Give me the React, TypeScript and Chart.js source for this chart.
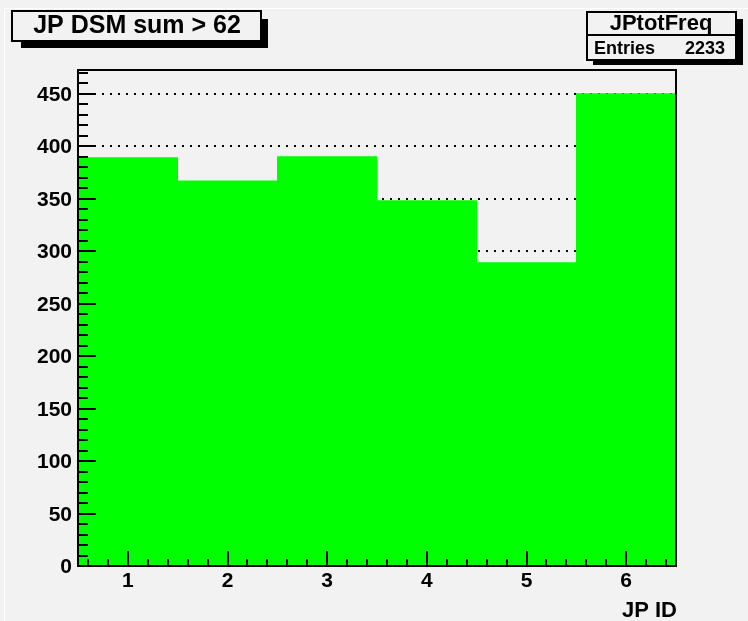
import React, { useEffect, useRef } from "react";
import { Chart, registerables } from "chart.js";

Chart.register(...registerables);

const binCenters = [1, 2, 3, 4, 5, 6];
const binCounts = [389, 367, 390, 348, 289, 450];
const xTickLabels = ["1", "2", "3", "4", "5", "6"];
const yMajorTicks = [0, 50, 100, 150, 200, 250, 300, 350, 400, 450];
const yGridLines = [50, 100, 150, 200, 250, 300, 350, 400, 450];
const titleText = "JP DSM sum > 62";
const histName = "JPtotFreq";
const entriesLabel = "Entries";
const entriesValue = "2233";
const xAxisTitle = "JP ID";

const FONT = "'Liberation Sans', Arial, Helvetica, sans-serif";
const BG = "#f2f2f2";

const rootPlugin = {
  id: "rootStyle",
  beforeDraw(chart: any) {
    const ctx = chart.ctx;
    ctx.save();
    ctx.fillStyle = BG;
    ctx.fillRect(0, 0, chart.width, chart.height);
    ctx.fillStyle = "#ffffff";
    ctx.fillRect(4, 8, chart.width - 4, 1);
    ctx.fillRect(4, 8, 1, chart.height - 8);
    ctx.restore();
  },
  beforeDatasetsDraw(chart: any) {
    const ctx = chart.ctx;
    const { left, right } = chart.chartArea;
    const y = chart.scales.y;
    ctx.save();
    ctx.strokeStyle = "#000";
    ctx.lineWidth = 2;
    ctx.setLineDash([2, 6]);
    for (const v of yGridLines) {
      const py = Math.round(y.getPixelForValue(v));
      ctx.beginPath();
      ctx.moveTo(left, py);
      ctx.lineTo(right, py);
      ctx.stroke();
    }
    ctx.restore();
  },
  afterDatasetsDraw(chart: any) {
    const ctx = chart.ctx;
    const { left, right, top, bottom } = chart.chartArea;
    const x = chart.scales.x;
    const y = chart.scales.y;
    ctx.save();
    ctx.strokeStyle = "#000";
    ctx.fillStyle = "#000";
    ctx.lineWidth = 2;
    ctx.setLineDash([]);
    ctx.strokeRect(left, top, right - left, bottom - top);

    for (let v = 0; v <= y.max + 1e-9; v += 10) {
      const py = Math.round(y.getPixelForValue(v));
      const major = Math.abs(v % 50) < 1e-9;
      const len = major ? 18 : 10;
      ctx.beginPath();
      ctx.moveTo(left, py);
      ctx.lineTo(left + len, py);
      ctx.stroke();
    }
    for (let i = 3; i <= 32; i++) {
      const v = i * 0.2;
      if (v < x.min - 1e-9 || v > x.max + 1e-9) continue;
      const px = Math.round(x.getPixelForValue(v));
      const major = i % 5 === 0;
      const len = major ? 15 : 7;
      ctx.beginPath();
      ctx.moveTo(px, bottom);
      ctx.lineTo(px, bottom - len);
      ctx.stroke();
    }

    ctx.font = `bold 21px ${FONT}`;
    ctx.textAlign = "right";
    ctx.textBaseline = "alphabetic";
    for (const v of yMajorTicks) {
      const py = y.getPixelForValue(v);
      ctx.fillText(String(v), left - 6, py + 7);
    }
    ctx.textAlign = "center";
    binCenters.forEach((c, i) => {
      const px = x.getPixelForValue(c);
      ctx.fillText(xTickLabels[i], px, bottom + 21);
    });
    ctx.font = `bold 22px ${FONT}`;
    ctx.textAlign = "right";
    ctx.fillText(xAxisTitle, right + 1, 617);

    ctx.fillStyle = "#000";
    ctx.fillRect(21, 19, 247, 29);
    ctx.fillStyle = BG;
    ctx.fillRect(12, 11, 249, 30);
    ctx.strokeStyle = "#000";
    ctx.lineWidth = 2;
    ctx.strokeRect(12, 11, 249, 30);
    ctx.fillStyle = "#000";
    ctx.font = `bold 25px ${FONT}`;
    ctx.textAlign = "center";
    ctx.fillText(titleText, 137, 33);

    ctx.fillStyle = "#000";
    ctx.fillRect(593, 19, 150, 46);
    ctx.fillStyle = BG;
    ctx.fillRect(587, 12, 149, 48);
    ctx.strokeRect(587, 12, 149, 48);
    ctx.beginPath();
    ctx.moveTo(587, 35);
    ctx.lineTo(736, 35);
    ctx.stroke();
    ctx.fillStyle = "#000";
    ctx.font = `bold 22px ${FONT}`;
    ctx.textAlign = "center";
    ctx.fillText(histName, 661, 30);
    ctx.font = `bold 18px ${FONT}`;
    ctx.textAlign = "left";
    ctx.fillText(entriesLabel, 594, 54);
    ctx.textAlign = "right";
    ctx.fillText(entriesValue, 725, 54);
    ctx.restore();
  },
};

export default function App() {
  const ref = useRef<HTMLCanvasElement | null>(null);
  useEffect(() => {
    document.body.style.margin = "0";
    const canvas = ref.current!;
    const chart = new Chart(canvas, {
      type: "bar",
      data: {
        datasets: [
          {
            data: binCenters.map((c, i) => ({ x: c, y: binCounts[i] })),
            backgroundColor: "#00ff00",
            borderWidth: 0,
            barPercentage: 1,
            categoryPercentage: 1,
          },
        ],
      },
      options: {
        responsive: false,
        animation: false,
        devicePixelRatio: 1,
        layout: { padding: { left: 78, right: 72, top: 70, bottom: 55 } },
        plugins: { legend: { display: false }, tooltip: { enabled: false } },
        scales: {
          x: {
            type: "linear",
            min: 0.5,
            max: 6.5,
            offset: false,
            display: false,
            afterBuildTicks: (scale: any) => {
              scale.ticks = binCenters.map((v) => ({ value: v }));
            },
          },
          y: {
            type: "linear",
            min: 0,
            max: 472.5,
            display: false,
          },
        },
      },
      plugins: [rootPlugin],
    } as any);
    return () => chart.destroy();
  }, []);
  return (
    <canvas
      ref={ref}
      width={748}
      height={621}
      style={{ display: "block", width: 748, height: 621 }}
    />
  );
}
